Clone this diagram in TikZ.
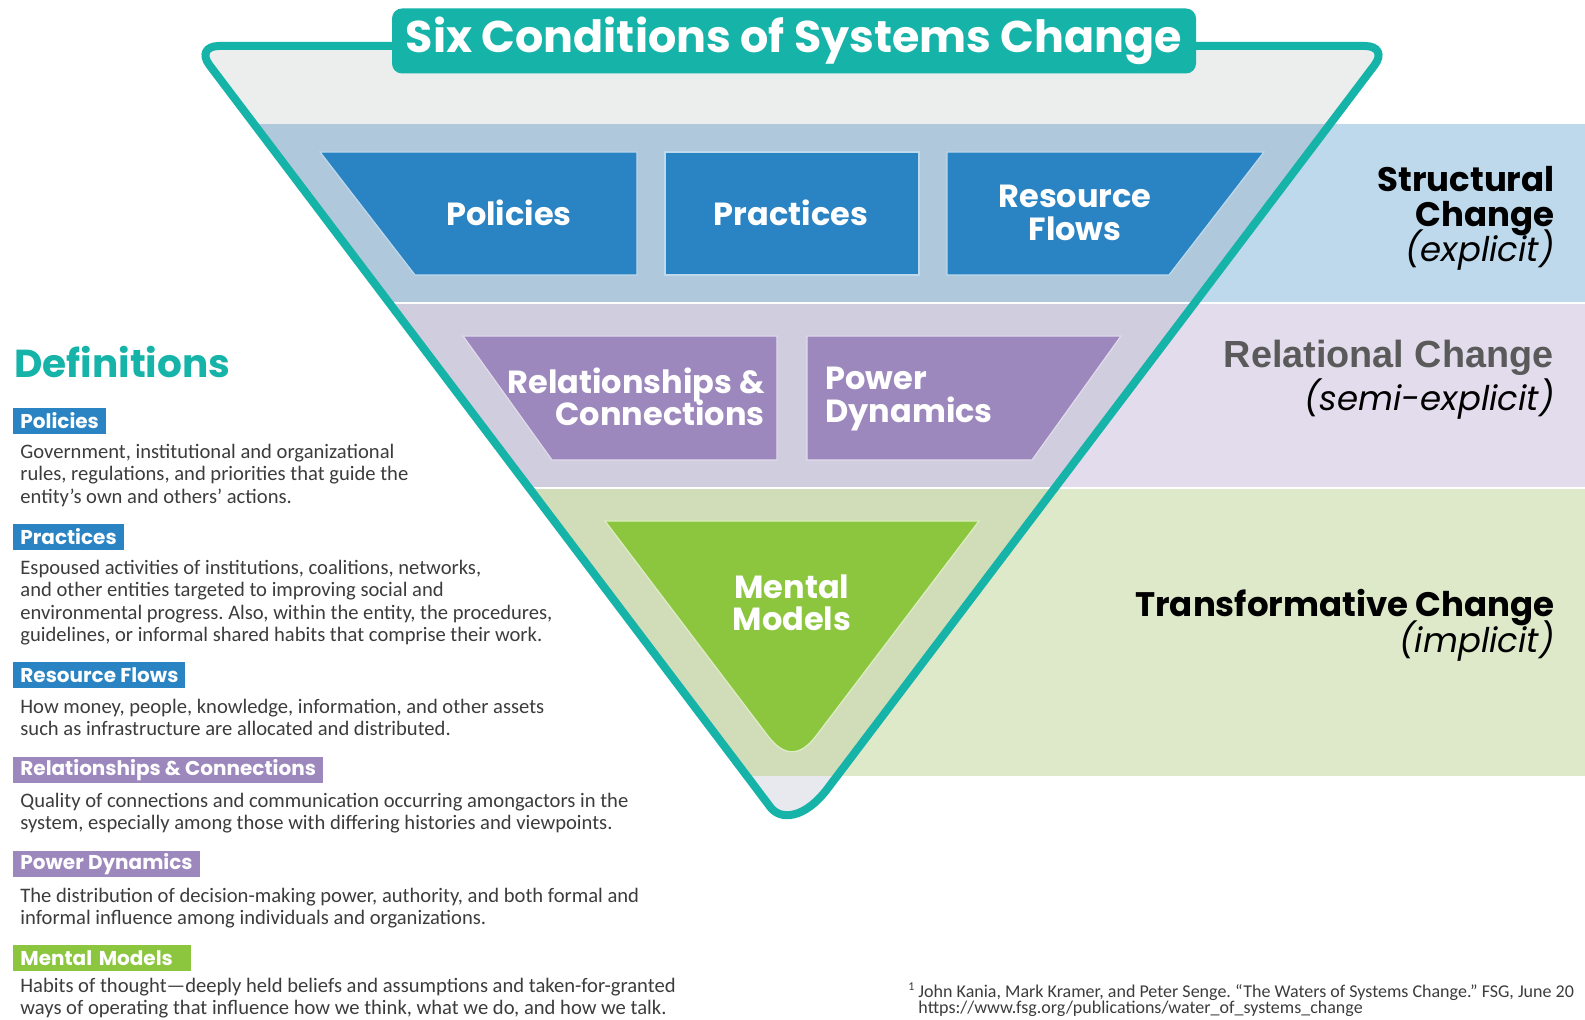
\documentclass[tikz,border=0pt]{standalone}
\usepackage{fontspec}
\setmainfont{Carlito}
\newfontfamily\popfont{Poppins}
\newfontfamily\arialfont{Liberation Sans}
\newcommand\tightlines{\lineskiplimit=-10pt\relax}
\frenchspacing

\definecolor{sysTeal}{HTML}{16B3A8}
\definecolor{polBlue}{HTML}{2A83C3}
\definecolor{relPurple}{HTML}{9D88BE}
\definecolor{mmGreen}{HTML}{8CC63F}
\definecolor{topGray}{HTML}{ECEDED}
\definecolor{tipGray}{HTML}{E8E9EE}
\definecolor{strIn}{HTML}{AFC8DB}
\definecolor{strOut}{HTML}{BDD9EB}
\definecolor{relIn}{HTML}{CFCDDE}
\definecolor{relOut}{HTML}{E2DCEC}
\definecolor{trfIn}{HTML}{D0DDB8}
\definecolor{trfOut}{HTML}{DDE9C8}
\definecolor{bodyGray}{HTML}{3C3C3C}
\definecolor{relGray}{HTML}{5A5A5A}

\tikzset{
  cond/.style={draw=white!70!#1, line width=0.6pt, fill=#1},
  condlabel/.style={text=white, inner sep=0pt,
    font=\popfont\bfseries\fontsize{16}{16.2}\selectfont\tightlines},
  tag/.style={fill=#1, text=white, anchor=west, inner xsep=3.5pt, inner ysep=0pt,
    minimum height=13pt, font=\popfont\bfseries\fontsize{10}{10}\selectfont},
  deftext/.style={anchor=north west, align=left, inner sep=0pt, text=bodyGray,
    font=\fontsize{10.3}{11.1}\selectfont\tightlines},
  changelabel/.style={anchor=base east, inner sep=0pt,
    font=\popfont\bfseries\fontsize{17}{17}\selectfont},
  changenote/.style={anchor=base east, inner sep=0pt,
    font=\popfont\itshape\fontsize{17}{17}\selectfont},
}

\begin{document}
\begin{tikzpicture}[x=0.5pt, y=-0.5pt]
  \useasboundingbox (0,0) rectangle (1585,1020);

  % bands outside the funnel
  \fill[strOut] (792,124) rectangle (1585,303);
  \fill[relOut] (792,303) rectangle (1585,488);
  \fill[trfOut] (792,488) rectangle (1585,776);

  % bands inside the funnel
  \begin{scope}
    \clip (792,46) [rounded corners=12pt] -- (195,46) -- (756,788) [sharp corners]
      .. controls (780,820) and (804,820) .. (828,788) [rounded corners=12pt] -- (1389,46) -- cycle;
    \fill[topGray] (0,0) rectangle (1585,124);
    \fill[strIn] (0,124) rectangle (1585,303);
    \fill[relIn] (0,303) rectangle (1585,488);
    \fill[trfIn] (0,488) rectangle (1585,776);
    \fill[tipGray] (0,776) rectangle (1585,900);
  \end{scope}
  \draw[white, line width=1.2pt] (0,303) -- (1585,303);
  \draw[white, line width=1.2pt] (0,488) -- (1585,488);

  % conditions
  \filldraw[cond=polBlue] (320,152) -- (637,152) -- (637,275) -- (415,275) -- cycle;
  \filldraw[cond=polBlue] (665,152) rectangle (919,275);
  \filldraw[cond=polBlue] (947,152) -- (1264,152) -- (1169,275) -- (947,275) -- cycle;
  \filldraw[cond=relPurple] (463,336) -- (777,336) -- (777,460) -- (552,460) -- cycle;
  \filldraw[cond=relPurple] (807,336) -- (1121,336) -- (1032,460) -- (807,460) -- cycle;
  \filldraw[cond=mmGreen] (605,521) -- (979,521) -- (816,736)
    .. controls (800,757) and (784,757) .. (768,736) -- cycle;

  \node[condlabel] (policies) at (509,213) {Policies};
  \node[condlabel] (practices) at (791,213) {Practices};
  \node[condlabel, align=center] (resflows) at (1075,213) {Resource\\Flows};
  \node[condlabel, align=right, anchor=east] (relconn) at (765,397) {Relationships \&\\Connections};
  \node[condlabel, align=left, anchor=west] (powerdyn) at (825,399) {Power\\Dynamics};
  \node[condlabel, align=center] (mental) at (792,603) {Mental\\Models};

  % funnel outline and title
  \draw[sysTeal, line width=4pt] (792,46) [rounded corners=12pt] -- (195,46) -- (756,788) [sharp corners]
    .. controls (780,820) and (804,820) .. (828,788) [rounded corners=12pt] -- (1389,46) -- cycle;
  \node[fill=sysTeal, rounded corners=5pt, minimum width=402pt, minimum height=32.5pt,
    text=white, font=\popfont\bfseries\fontsize{22.2}{22.2}\selectfont] (title) at (794,41)
    {Six Conditions of Systems Change};

  % levels of change
  \node[changelabel] (struct1) at (1555,192) {Structural};
  \node[changelabel] (struct2) at (1555,227) {Change};
  \node[changenote] (struct3) at (1555,262) {(explicit)};
  \node[anchor=base east, inner sep=0pt, text=relGray,
    font=\arialfont\bfseries\fontsize{18.9}{18.9}\selectfont] (relat1) at (1554,368) {Relational Change};
  \node[changenote] (relat2) at (1555,411) {(semi-explicit)};
  \node[changelabel] (trans1) at (1555,617) {Transformative Change};
  \node[changenote] (trans2) at (1555,653) {(implicit)};

  % definitions
  \node[anchor=base west, inner sep=0pt, text=sysTeal,
    font=\popfont\bfseries\fontsize{19.5}{20}\selectfont] (defhead) at (14,378) {Definitions};

  \node[tag=polBlue] (tagpol) at (13,421) {Policies};
  \node[deftext] (defpol) at (20,444) {Government, institutional and organizational\\
    rules, regulations, and priorities that guide the\\entity’s own and others’ actions.};

  \node[tag=polBlue] (tagprac) at (13,537) {Practices};
  \node[deftext] (defprac) at (20,560) {Espoused activities of institutions, coalitions, networks,\\
    and other entities targeted to improving social and\\
    environmental progress. Also, within the entity, the procedures,\\
    guidelines, or informal shared habits that comprise their work.};

  \node[tag=polBlue] (tagres) at (13,675) {Resource Flows};
  \node[deftext] (defres) at (20,699) {How money, people, knowledge, information, and other assets\\
    such as infrastructure are allocated and distributed.};

  \node[tag=relPurple] (tagrel) at (13,770) {Relationships \& Connections};
  \node[deftext] (defrel) at (20,793) {Quality of connections and communication occurring amongactors in the\\
    system, especially among those with differing histories and viewpoints.};

  \node[tag=relPurple] (tagpow) at (13,864) {Power Dynamics};
  \node[deftext] (defpow) at (20,888) {The distribution of decision-making power, authority, and both formal and\\
    informal influence among individuals and organizations.};

  \node[tag=mmGreen, text width=82pt] (tagmm) at (13,958) {Mental Models};
  \node[deftext] (defmm) at (20,978) {Habits of thought—deeply held beliefs and assumptions and taken-for-granted\\
    ways of operating that influence how we think, what we do, and how we talk.};

  % source
  \node[anchor=north west, align=left, inner sep=0pt, text=bodyGray,
    font=\fontsize{9}{8.1}\selectfont\tightlines] (source) at (908,982)
    {\textsuperscript{1}\,John Kania, Mark Kramer, and Peter Senge. “The Waters of Systems Change.” FSG, June 20\\
     \hphantom{\textsuperscript{1}\,}https://www.fsg.org/publications/water\_of\_systems\_change};
\end{tikzpicture}
\end{document}
